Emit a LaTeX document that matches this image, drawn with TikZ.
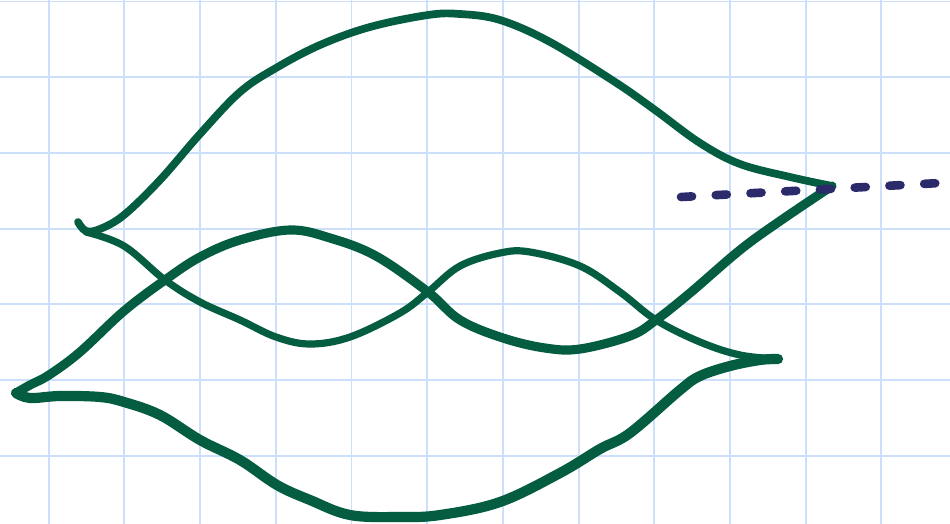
\documentclass[tikz,border=0pt]{standalone}
\definecolor{ink}{HTML}{045C41}
\definecolor{navy}{HTML}{2B2A6B}
\definecolor{gridblue}{HTML}{CCE0FC}
\begin{document}
\begin{tikzpicture}[x=0.02cm,y=-0.02cm,
  stroke/.style={draw=ink,line cap=round,line join=round},
  gridline/.style={draw=gridblue,line width=1.1pt},
  dashline/.style={draw=navy,line width=4.9pt,line cap=round,dash pattern=on 6.3pt off 13.5pt}]
\useasboundingbox (0,0) rectangle (950,524);
\fill[white] (0,0) rectangle (950,524);
\foreach \i in {0,...,11} \draw[gridline] ({48.7+75.7*\i},0) -- ({48.7+75.7*\i},524);
\foreach \j in {0,...,6} \draw[gridline] (0,{1.5+75.7*\j}) -- (950,{1.5+75.7*\j});
\coordinate (A) at (78,222);
\coordinate (B) at (832,186);
\coordinate (C) at (778,359);
\coordinate (D) at (16,393);
\coordinate (E) at (681,197);
\coordinate (F) at (940,183);
% top arc A -> B
\draw[stroke,line width=4.4pt] plot[smooth,tension=0.6] coordinates {(A) (86,231) (100,229) (124,215) (160,180) (200,134) (240,92) (276,68) (320,45) (370,27) (428,15) (460,14) (500,20) (550,42) (615,82) (655,110) (700,143) (740,164) (790,177) (B)};
% strand A -> C
\draw[stroke,line width=4.1pt] plot[smooth,tension=0.6] coordinates {(86,232) (124,246) (165,280) (200,302) (240,320) (276,337) (310,344) (350,337) (400,313) (428,292) (460,266) (500,253) (530,252) (580,266) (620,292) (656,320) (700,342) (740,355) (C)};
% strand D -> B
\draw[stroke,line width=5.2pt] plot[smooth,tension=0.6] coordinates {(D) (30,385) (49,375) (80,352) (124,311) (165,280) (200,257) (240,240) (290,230) (330,238) (376,256) (428,292) (460,320) (503,338) (545,348) (580,349) (630,336) (656,320) (690,293) (740,250) (780,221) (B)};
% bottom arc D -> C
\draw[stroke,line width=5.8pt] plot[smooth,tension=0.6] coordinates {(D) (30,398) (60,396) (100,397) (124,402) (160,415) (200,440) (240,460) (277,485) (310,500) (350,515) (400,517) (440,515) (500,502) (560,473) (600,449) (630,433) (680,390) (700,376) (730,366) (760,360) (C)};
% dashed line
\draw[dashline] (E) -- (F);
\end{tikzpicture}
\end{document}
